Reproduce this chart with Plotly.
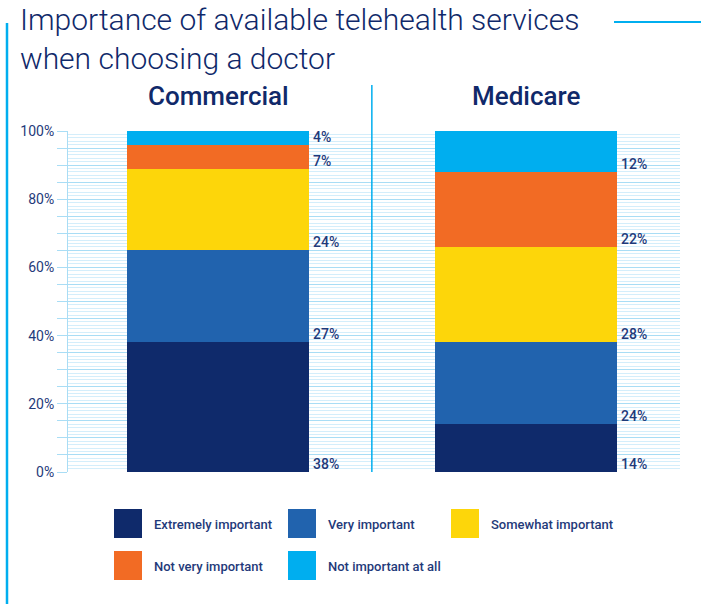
import plotly.graph_objects as go

# ---- data -------------------------------------------------------------
plans = ["Commercial", "Medicare"]
levels = [
    "Extremely important",
    "Very important",
    "Somewhat important",
    "Not very important",
    "Not important at all",
]
commercial = [38, 27, 24, 7, 4]
medicare = [14, 24, 28, 22, 12]
colors = ["#0F2A6B", "#2163AE", "#FDD60A", "#F26B24", "#00AEEF"]
y_ticks = [0, 20, 40, 60, 80, 100]
title_lines = ["Importance of available telehealth services", "when choosing a doctor"]

# ---- layout geometry (pixels) ----------------------------------------
W, H = 701, 604
ML, MR, MT, MB = 68, 21, 131, 132
PW, PH = W - ML - MR, H - MT - MB
NAVY = "#1F3A7A"
CYAN = "#00AEEF"
BAR_W = 0.592


def px(x):
    return (x - ML) / PW


def py(y):
    return (H - MB - y) / PH


fig = go.Figure()
values_by_plan = [commercial, medicare]
for i, name in enumerate(levels):
    fig.add_trace(
        go.Bar(
            x=[0, 1],
            y=[vals[i] for vals in values_by_plan],
            name=name,
            marker=dict(color=colors[i], line=dict(width=0)),
            width=BAR_W,
            showlegend=False,
            hoverinfo="skip",
        )
    )

annotations = []

# value labels, sitting at the bottom of each segment, right of the bar
for p, vals in enumerate(values_by_plan):
    base = 0
    for v in vals:
        annotations.append(
            dict(
                x=p + BAR_W / 2, y=base, xref="x", yref="y",
                text=f"{v}%", showarrow=False,
                xanchor="left", yanchor="bottom", xshift=2, yshift=-2,
                font=dict(family="Roboto", size=14, color=NAVY, weight=500),
            )
        )
        base += v

# plan headers
for p, name in enumerate(plans):
    annotations.append(
        dict(
            x=p, y=py(96), xref="x", yref="paper", text=name, showarrow=False,
            xanchor="center", yanchor="middle",
            font=dict(family="Roboto", size=26, color="#10296A", weight=500),
        )
    )

# two-line title
annotations.append(
    dict(
        x=px(18), y=py(0), xref="paper", yref="paper",
        text="<br>".join(title_lines), showarrow=False,
        xanchor="left", yanchor="top", align="left",
        font=dict(family="Roboto", size=30, color="#10296A", weight=300),
    )
)

shapes = [
    # left accent rule
    dict(type="line", xref="paper", yref="paper", x0=px(7), x1=px(7), y0=py(23), y1=py(604),
         line=dict(color=CYAN, width=2.5)),
    # rule trailing the title
    dict(type="line", xref="paper", yref="paper", x0=px(614), x1=px(701), y0=py(22), y1=py(22),
         line=dict(color=CYAN, width=2)),
    # divider between the two plans
    dict(type="line", xref="x", yref="paper", x0=0.5, x1=0.5, y0=py(85), y1=0,
         line=dict(color=CYAN, width=1.5)),
]

# legend: swatches + labels
col_x = [114, 288, 451]
row_y = [509, 551]
for i, name in enumerate(levels):
    cx = col_x[i % 3]
    ry = row_y[i // 3]
    shapes.append(
        dict(type="rect", xref="paper", yref="paper",
             x0=px(cx), x1=px(cx + 28), y0=py(ry + 29), y1=py(ry),
             fillcolor=colors[i], line=dict(width=0))
    )
    annotations.append(
        dict(
            x=px(cx + 38), y=py(ry + 15), xref="paper", yref="paper",
            text=name, showarrow=False, xanchor="left", yanchor="middle",
            font=dict(family="Roboto", size=13, color=NAVY, weight=500),
        )
    )

tickvals = list(range(0, 101, 5))
ticktext = [f"{t}%" if t in y_ticks else "" for t in tickvals]

fig.update_layout(
    width=W, height=H,
    margin=dict(l=ML, r=MR, t=MT, b=MB, pad=0),
    paper_bgcolor="white", plot_bgcolor="white",
    barmode="stack",
    xaxis=dict(range=[-0.488, 1.502], showgrid=False, zeroline=False,
               showticklabels=False, ticks="", fixedrange=True),
    yaxis=dict(
        range=[0, 100], tickvals=tickvals, ticktext=ticktext,
        ticks="outside", ticklen=10, tickcolor="#A9DDF5", tickwidth=1,
        showgrid=True, gridcolor="#A9DDF5", gridwidth=1,
        showline=True, linecolor="#A9DDF5", linewidth=1,
        zeroline=False,
        tickfont=dict(family="Roboto", size=14, color=NAVY, weight=400),
        minor=dict(dtick=1, showgrid=True, gridcolor="#D4EEFB", gridwidth=1, ticks=""),
    ),
    annotations=annotations,
    shapes=shapes,
)

fig.write_html("out.html")
